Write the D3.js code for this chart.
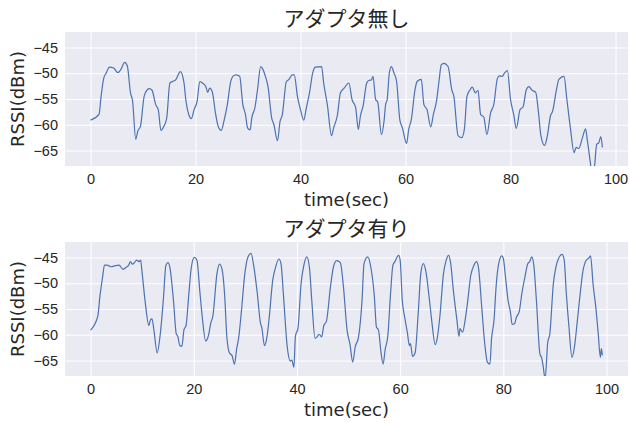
<!DOCTYPE html>
<html>
<head>
<meta charset="utf-8">
<script src="https://cdn.jsdelivr.net/npm/d3@7"></script>
<style>
  body { margin: 0; background: #fff; }
  text { fill: #262626; }
</style>
</head>
<body>
<div id="chart"></div>
<script>
const titles = ["アダプタ無し", "アダプタ有り"];
const xLabel = "time(sec)";
const yLabel = "RSSI(dBm)";
const xTicks = [0, 20, 40, 60, 80, 100];
const yTicks = [-45, -50, -55, -60, -65];
const yRange = [-68, -42];

// without adapter
const t1 = [0, 1.6, 2.0, 2.5, 3.0, 3.6, 4.4, 5.2, 5.7, 6.5, 7.0, 7.6, 8.0, 8.6, 9.0, 9.5, 10.2, 10.8, 11.2, 11.7,
  12.4, 12.9, 13.4, 13.8, 14.5, 15.1, 15.6, 16.2, 17.1, 17.8, 18.1, 18.7, 19.2, 19.7, 20.3, 20.8, 21.3, 22.0, 22.3, 22.7,
  23.2, 23.8, 24.3, 24.9, 25.4, 26.0, 26.7, 27.1, 27.7, 28.4, 29.0, 29.5, 29.9, 30.4, 30.7, 31.3, 31.8, 32.4, 32.8, 33.3,
  33.8, 34.5, 34.9, 35.6, 36.1, 36.5, 37.3, 37.8, 38.4, 38.8, 39.4, 40.0, 40.6, 41.1, 41.7, 42.3, 42.8, 44.0, 44.4, 45.1,
  45.9, 46.3, 47.0, 47.6, 48.3, 49.2, 49.8, 50.5, 51.0, 51.4, 51.9, 52.6, 53.0, 53.5, 53.8, 54.3, 54.7, 55.4, 55.9, 56.2,
  56.5, 56.9, 57.3, 57.8, 58.3, 58.9, 59.4, 60.2, 60.6, 61.1, 61.8, 62.2, 63.0, 63.5, 64.1, 64.8, 65.3, 65.9, 66.4, 66.8,
  67.3, 68.1, 68.8, 69.2, 70.0, 70.7, 71.2, 71.7, 72.3, 72.7, 73.3, 73.8, 74.3, 74.9, 75.5, 76.2, 76.8, 77.5, 77.9, 78.4,
  78.9, 79.4, 80.0, 80.6, 81.1, 81.8, 82.4, 83.0, 83.5, 84.1, 84.8, 85.3, 85.8, 86.5, 87.0, 87.6, 88.0, 88.8, 89.2, 90.2,
  90.7, 91.4, 92.1, 92.5, 93.0, 93.7, 94.3, 94.6, 95.2, 95.5, 96.0, 96.4, 96.8, 97.2, 97.5];
const rssi1 = [-59.1, -58.0, -54.5, -51.0, -49.9, -48.8, -49.0, -49.9, -49.4, -47.9, -48.6, -53.8, -55.4, -62.8, -61.2, -60.3, -54.5, -53.2, -53.0, -53.3,
  -56.1, -57.1, -61.1, -60.6, -58.7, -51.9, -51.6, -51.3, -49.7, -51.9, -54.8, -58.0, -58.8, -57.1, -55.4, -51.6, -51.9, -52.7, -53.7, -52.9,
  -53.7, -57.8, -60.3, -61.1, -59.3, -56.4, -51.6, -50.6, -50.3, -50.6, -56.1, -58.0, -60.6, -61.0, -58.7, -56.7, -53.2, -48.7, -49.2, -50.6,
  -52.6, -58.7, -59.9, -63.1, -59.3, -58.2, -51.6, -51.2, -50.3, -50.3, -54.5, -57.1, -59.1, -56.7, -53.8, -50.0, -48.8, -48.7, -51.9, -56.1,
  -62.1, -60.6, -58.2, -53.8, -52.9, -51.9, -55.1, -56.7, -60.9, -58.3, -56.4, -51.9, -51.4, -51.3, -50.6, -55.1, -55.6, -61.9, -59.3, -56.1,
  -55.1, -50.0, -48.7, -50.0, -51.6, -59.0, -60.6, -63.6, -60.9, -59.0, -53.2, -51.6, -51.2, -56.1, -57.1, -60.4, -58.0, -55.4, -51.3, -48.4,
  -48.1, -48.7, -53.2, -54.5, -62.1, -62.5, -60.9, -54.5, -53.2, -52.7, -53.8, -53.3, -58.0, -58.5, -61.9, -57.7, -56.1, -51.0, -50.5, -50.6,
  -49.9, -49.5, -55.1, -58.0, -60.7, -57.1, -56.5, -53.2, -52.6, -53.3, -53.7, -57.4, -62.2, -64.0, -62.2, -58.3, -57.4, -52.9, -51.2, -50.6,
  -54.8, -60.6, -65.4, -64.4, -64.6, -62.5, -60.8, -62.8, -67.3, -69.5, -68.0, -63.8, -63.5, -62.3, -64.4];

// with adapter
const t2 = [0, 1.4, 1.8, 2.3, 2.7, 3.2, 4.0, 4.8, 5.5, 6.3, 6.9, 7.4, 7.7, 8.1, 8.5, 8.9, 9.4, 9.7, 10.0, 10.6,
  11.3, 11.6, 11.9, 12.3, 12.9, 13.5, 14.1, 14.6, 15.0, 15.4, 16.1, 16.6, 16.9, 17.3, 17.7, 18.1, 18.5, 19.0, 19.5, 20.1,
  20.6, 21.2, 21.7, 22.3, 22.9, 23.3, 23.7, 24.5, 25.0, 25.5, 26.0, 26.4, 26.9, 27.4, 27.9, 28.3, 28.7, 29.2, 29.9, 30.5,
  31.1, 31.6, 32.3, 32.9, 33.2, 33.7, 34.2, 34.6, 35.3, 35.8, 36.5, 36.9, 37.4, 38.1, 38.7, 39.0, 39.4, 39.7, 40.2, 40.8,
  41.3, 41.9, 42.4, 42.9, 43.5, 43.9, 44.3, 44.8, 45.2, 45.7, 46.5, 47.1, 47.7, 48.4, 49.0, 49.7, 50.3, 50.8, 51.3, 51.9,
  52.6, 53.0, 53.7, 54.3, 55.0, 55.4, 55.8, 56.3, 56.7, 57.1, 57.6, 58.1, 58.6, 59.0, 59.7, 60.0, 60.4, 60.9, 61.4, 61.8,
  62.0, 62.4, 62.9, 63.5, 64.0, 64.5, 65.0, 65.7, 66.1, 66.8, 67.2, 67.7, 68.4, 68.9, 69.4, 69.8, 70.3, 71.0, 71.4, 71.6,
  72.1, 72.6, 73.0, 73.7, 74.3, 74.8, 75.2, 75.8, 76.4, 76.9, 77.4, 77.7, 78.2, 78.6, 79.1, 79.7, 80.0, 80.4, 80.9, 81.4,
  81.7, 82.2, 82.5, 83.1, 83.6, 84.2, 84.7, 85.1, 85.5, 85.9, 86.4, 87.1, 87.4, 87.7, 88.1, 88.6, 89.0, 89.7, 90.2, 90.7,
  91.4, 91.8, 92.2, 92.7, 93.3, 93.8, 94.3, 94.8, 95.4, 96.1, 96.5, 96.9, 97.4, 97.9, 98.4, 98.8, 99.0, 99.2];
const rssi2 = [-59.1, -56.4, -52.6, -49.0, -46.5, -46.5, -46.8, -46.6, -46.5, -47.3, -46.9, -46.5, -45.8, -46.3, -46.0, -45.5, -45.8, -45.5, -48.1, -53.8,
  -58.2, -57.1, -56.9, -59.3, -63.5, -59.9, -53.2, -46.5, -46.0, -47.1, -53.8, -59.8, -60.3, -62.1, -62.2, -59.0, -58.2, -52.6, -47.1, -45.0,
  -45.5, -51.9, -57.1, -61.2, -59.9, -57.7, -56.4, -48.1, -46.3, -47.4, -52.6, -60.3, -63.5, -64.0, -65.7, -62.8, -60.6, -55.8, -48.1, -44.9,
  -44.2, -46.5, -51.9, -57.6, -58.7, -62.1, -60.3, -56.9, -49.4, -47.1, -45.3, -46.2, -52.6, -62.2, -65.1, -64.9, -66.3, -60.3, -58.7, -50.0,
  -46.7, -44.9, -46.8, -53.8, -60.7, -60.4, -59.9, -60.4, -58.2, -57.4, -50.6, -46.7, -45.6, -46.0, -50.6, -59.0, -62.0, -65.3, -62.3, -60.6,
  -53.5, -46.2, -44.9, -46.8, -52.6, -58.5, -59.1, -63.5, -65.7, -62.8, -60.3, -52.6, -46.5, -45.8, -44.6, -45.5, -53.2, -56.7, -59.6, -62.1,
  -61.7, -64.2, -63.5, -55.8, -48.1, -46.2, -47.8, -53.5, -57.1, -61.9, -60.6, -56.4, -48.1, -45.6, -44.6, -46.2, -51.3, -57.1, -60.3, -58.8,
  -59.5, -57.1, -54.2, -48.4, -46.5, -45.8, -47.1, -54.5, -61.8, -65.3, -65.7, -60.9, -57.1, -50.6, -46.2, -44.7, -45.2, -48.7, -53.2, -55.8,
  -58.0, -57.8, -56.7, -55.4, -51.9, -48.7, -46.3, -45.8, -44.9, -46.5, -53.2, -63.8, -64.4, -66.0, -68.6, -61.5, -59.9, -50.0, -46.8, -45.2,
  -44.4, -45.5, -51.9, -58.3, -64.4, -62.2, -57.7, -52.9, -47.8, -45.5, -45.2, -44.7, -50.3, -54.5, -59.9, -64.4, -62.7, -64.0];

const width = 630;
const height = 423;
const plotLeft = 65;
const plotRight = 628;
const panels = [
  { top: 32, bottom: 166, t: t1, v: rssi1 },
  { top: 242, bottom: 376, t: t2, v: rssi2 },
];

const svg = d3
  .select("#chart")
  .append("svg")
  .attr("width", width)
  .attr("height", height)
  .style("font-family", "'DejaVu Sans', sans-serif");

panels.forEach((p, i) => {
  const tMax = d3.max(p.t);
  const pad = tMax * 0.05;
  const xScale = d3
    .scaleLinear()
    .domain([-pad, tMax + pad])
    .range([plotLeft, plotRight]);

  const yScale = d3
    .scaleLinear()
    .domain(yRange)
    .range([p.bottom, p.top]);

  const g = svg.append("g");

  g.append("rect")
    .attr("x", plotLeft)
    .attr("y", p.top)
    .attr("width", plotRight - plotLeft)
    .attr("height", p.bottom - p.top)
    .attr("fill", "#EAEAF2");

  g.append("clipPath")
    .attr("id", `clip${i}`)
    .append("rect")
    .attr("x", plotLeft)
    .attr("y", p.top)
    .attr("width", plotRight - plotLeft)
    .attr("height", p.bottom - p.top);

  const xAxis = g
    .append("g")
    .attr("transform", `translate(0, ${p.bottom})`)
    .call(
      d3.axisBottom(xScale)
        .tickValues(xTicks)
        .tickSize(-(p.bottom - p.top))
        .tickPadding(8)
    );

  const yAxis = g
    .append("g")
    .attr("transform", `translate(${plotLeft}, 0)`)
    .call(
      d3.axisLeft(yScale)
        .tickValues(yTicks)
        .tickSize(-(plotRight - plotLeft))
        .tickPadding(7)
    );

  [xAxis, yAxis].forEach((ax) => {
    ax.select(".domain").remove();
    ax.selectAll(".tick line").attr("stroke", "#fff").attr("stroke-width", 1);
    ax.selectAll(".tick text")
      .attr("fill", "#262626")
      .style("font-size", "14.5px");
  });

  const line = d3
    .line()
    .x((d, j) => xScale(p.t[j]))
    .y((d) => yScale(d))
    .curve(d3.curveMonotoneX);

  g.append("path")
    .attr("clip-path", `url(#clip${i})`)
    .attr("fill", "none")
    .attr("stroke", "#4C72B0")
    .attr("stroke-width", 1.2)
    .attr("stroke-linejoin", "round")
    .attr("d", line(p.v));

  g.append("text")
    .attr("x", (plotLeft + plotRight) / 2)
    .attr("y", p.top - 6)
    .attr("text-anchor", "middle")
    .style("font-family", "'Noto Sans CJK JP', sans-serif")
    .style("font-size", "21px")
    .text(titles[i]);

  g.append("text")
    .attr("x", (plotLeft + plotRight) / 2)
    .attr("y", p.bottom + 40)
    .attr("text-anchor", "middle")
    .style("font-size", "18px")
    .text(xLabel);

  g.append("text")
    .attr("transform", "rotate(-90)")
    .attr("x", -(p.top + p.bottom) / 2)
    .attr("y", 24)
    .attr("text-anchor", "middle")
    .style("font-size", "18px")
    .text(yLabel);
});
</script>
</body>
</html>
